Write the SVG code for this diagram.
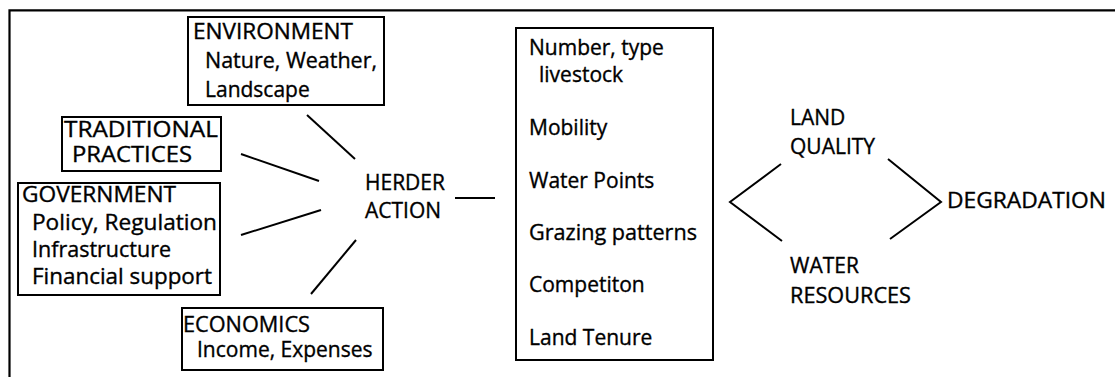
<svg xmlns="http://www.w3.org/2000/svg" width="1115" height="377" viewBox="0 0 1115 377">
<style>
  text { font-family: "Open Sans", "Liberation Sans", sans-serif; font-size: 21px; fill: #000; stroke: #000; stroke-width: 0.35px; }
  .box { fill: none; stroke: #000; stroke-width: 2; }
  .con { fill: none; stroke: #000; stroke-width: 2; }
  .frame { fill: none; stroke: #000; stroke-width: 2.2; }
</style>
<rect width="1115" height="377" fill="#fff"/>
<g id="frame">
  <polyline class="frame" points="9.5,377 9.5,10.3 1115,10.3"/>
</g>
<g id="environment">
  <rect class="box" x="188" y="17" width="196" height="88"/>
  <text x="193" y="39" textLength="160" lengthAdjust="spacingAndGlyphs">ENVIRONMENT</text>
  <text x="205" y="68" textLength="172" lengthAdjust="spacingAndGlyphs">Nature, Weather,</text>
  <text x="205" y="97">Landscape</text>
</g>
<g id="traditional">
  <rect class="box" x="62" y="117" width="159" height="54"/>
  <text x="64" y="137" textLength="154" lengthAdjust="spacingAndGlyphs">TRADITIONAL</text>
  <text x="72" y="162" textLength="120" lengthAdjust="spacingAndGlyphs">PRACTICES</text>
</g>
<g id="government">
  <rect class="box" x="18" y="183" width="202" height="112"/>
  <text x="22" y="202" textLength="154" lengthAdjust="spacingAndGlyphs">GOVERNMENT</text>
  <text x="32" y="230" textLength="185" lengthAdjust="spacingAndGlyphs">Policy, Regulation</text>
  <text x="32" y="257" textLength="139" lengthAdjust="spacingAndGlyphs">Infrastructure</text>
  <text x="32" y="284" textLength="180" lengthAdjust="spacingAndGlyphs">Financial support</text>
</g>
<g id="economics">
  <rect class="box" x="182" y="308" width="201" height="62"/>
  <text x="183" y="332" textLength="127" lengthAdjust="spacingAndGlyphs">ECONOMICS</text>
  <text x="197" y="357">Income, Expenses</text>
</g>
<g id="herder">
  <text x="365" y="190">HERDER</text>
  <text x="365" y="218">ACTION</text>
</g>
<g id="factors">
  <rect class="box" x="516" y="28" width="197" height="332"/>
  <text x="529" y="55">Number, type</text>
  <text x="539" y="82">livestock</text>
  <text x="529" y="135">Mobility</text>
  <text x="529" y="188">Water Points</text>
  <text x="529" y="240" textLength="168" lengthAdjust="spacingAndGlyphs">Grazing patterns</text>
  <text x="529" y="292">Competiton</text>
  <text x="529" y="345">Land Tenure</text>
</g>
<g id="land-quality">
  <text x="790" y="125">LAND</text>
  <text x="790" y="154">QUALITY</text>
</g>
<g id="water-resources">
  <text x="790" y="273">WATER</text>
  <text x="790" y="303" textLength="121" lengthAdjust="spacingAndGlyphs">RESOURCES</text>
</g>
<g id="degradation">
  <text x="947" y="208" textLength="159" lengthAdjust="spacingAndGlyphs">DEGRADATION</text>
</g>
<g id="connectors">
  <line class="con" x1="307" y1="115" x2="355" y2="159"/>
  <line class="con" x1="241" y1="154" x2="319" y2="181"/>
  <line class="con" x1="241" y1="235" x2="321" y2="210"/>
  <line class="con" x1="311" y1="294" x2="356" y2="240"/>
  <line class="con" x1="455" y1="198" x2="495" y2="198"/>
  <polyline class="con" points="781,164 730,202 782,241"/>
  <polyline class="con" points="888,159 941,202 890,239"/>
</g>
</svg>
